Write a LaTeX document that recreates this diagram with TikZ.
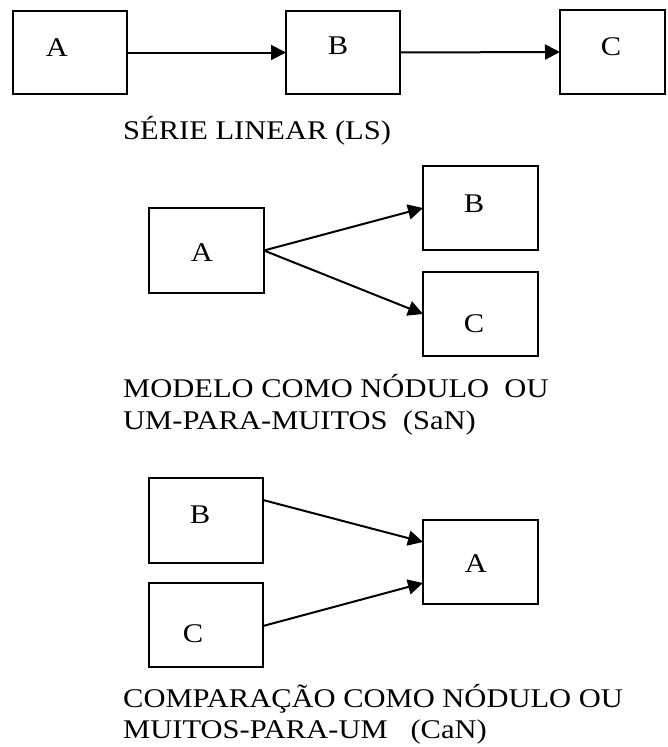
\documentclass[tikz,border=0pt]{standalone}
\usepackage{fontspec}
\setmainfont{Liberation Serif}[FakeStretch=1.13]
\usetikzlibrary{arrows.meta}

\begin{document}
\begin{tikzpicture}[x=1pt,y=-1pt,
  box/.style={draw,line width=2pt,inner sep=0pt,outer sep=0pt},
  conn/.style={line width=2pt,-{Triangle[length=15pt,width=15pt]}},
  letter/.style={font=\fontsize{27}{32}\selectfont,anchor=base,inner sep=0pt},
  caption/.style={font=\fontsize{27}{32}\selectfont,anchor=base west,inner sep=0pt}]
\useasboundingbox (0,0) rectangle (667,747);

% Linear series
\node[box,minimum width=114pt,minimum height=83pt] (la) at (70,52.5) {};
\node[box,minimum width=114pt,minimum height=83pt] (lb) at (343,52.5) {};
\node[box,minimum width=105pt,minimum height=84pt] (lc) at (612.5,52) {};
\node[letter] (lat) at (57,56) {A};
\node[letter] (lbt) at (338,54) {B};
\node[letter] (lct) at (611,55) {C};
\draw[conn] (la.east) -- (lb.west);
\draw[conn] (lb.east) -- (lc.west);
\node[caption] (lcap) at (123,139) {SÉRIE LINEAR (LS)};

% One-to-many
\node[box,minimum width=115pt,minimum height=85pt] (sa) at (206.5,250.5) {};
\node[box,minimum width=115pt,minimum height=84pt] (sb) at (480.5,208) {};
\node[box,minimum width=115pt,minimum height=84pt] (sc) at (480.5,314) {};
\node[letter] (sat) at (202,261) {A};
\node[letter] (sbt) at (474,212) {B};
\node[letter] (sct) at (474,332) {C};
\draw[conn] (sa.east) -- (sb.west);
\draw[conn] (sa.east) -- (sc.west);
\node[caption] (scap1) at (123,397) {MODELO COMO NÓDULO\ \ OU};
\node[caption] (scap2) at (123,429) {UM-PARA-MUITOS\ \ (SaN)};

% Many-to-one
\node[box,minimum width=114pt,minimum height=85pt] (cb) at (206,520.5) {};
\node[box,minimum width=114pt,minimum height=84pt] (cc) at (206,625) {};
\node[box,minimum width=115pt,minimum height=84pt] (ca) at (480.5,562) {};
\node[letter] (cbt) at (200,523) {B};
\node[letter] (cct) at (193,642) {C};
\node[letter] (cat) at (476,572) {A};
\draw[conn] (cb.east |- 0,500) -- (ca.west |- 0,542);
\draw[conn] (cc.east |- 0,626) -- (ca.west |- 0,583);
\node[caption] (ccap1) at (123,707) {COMPARAÇÃO COMO NÓDULO OU};
\node[caption] (ccap2) at (123,738) {MUITOS-PARA-UM\ \ \ (CaN)};
\end{tikzpicture}
\end{document}
